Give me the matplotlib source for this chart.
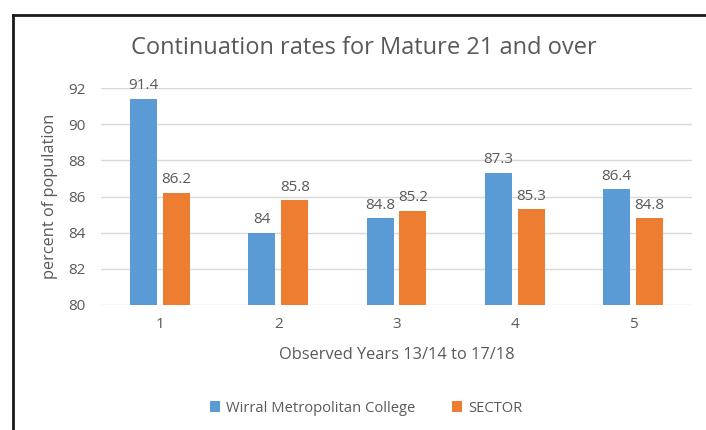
import matplotlib
matplotlib.use("Agg")
import matplotlib.pyplot as plt
from matplotlib.lines import Line2D
import numpy as np

categories = ["1", "2", "3", "4", "5"]
wmc = [91.4, 84, 84.8, 87.3, 86.4]
sector = [86.2, 85.8, 85.2, 85.3, 84.8]
wmc_labels = ["91.4", "84", "84.8", "87.3", "86.4"]
sector_labels = ["86.2", "85.8", "85.2", "85.3", "84.8"]
yticks = [80, 82, 84, 86, 88, 90, 92]

plt.rcParams['font.family'] = ['Open Sans', 'DejaVu Sans']
txt = '#595959'
blue = '#5B9BD5'
orange = '#ED7D31'

fig = plt.figure(figsize=(7.06, 4.30), dpi=100)
ax = fig.add_axes([101/706, 1-305/430, (692-101)/706, (305-88)/430])

x = np.arange(len(categories))
w = 0.228
off = 0.139
b1 = ax.bar(x - off, wmc, w, color=blue, label='Wirral Metropolitan College', zorder=3)
b2 = ax.bar(x + off, sector, w, color=orange, label='SECTOR', zorder=3)
for rect, lab in zip(b1, wmc_labels):
    ax.annotate(lab, (rect.get_x()+rect.get_width()/2, rect.get_height()), xytext=(0, 4),
                textcoords='offset points', ha='center', va='bottom', fontsize=11, color=txt)
for rect, lab in zip(b2, sector_labels):
    ax.annotate(lab, (rect.get_x()+rect.get_width()/2, rect.get_height()), xytext=(0, 4),
                textcoords='offset points', ha='center', va='bottom', fontsize=11, color=txt)

ax.set_xlim(-0.5, len(categories)-0.5)
ax.set_ylim(80, 92)
ax.set_yticks(yticks)
ax.set_xticks(x)
ax.set_xticklabels(categories)
ax.tick_params(length=0, labelsize=11, colors=txt, pad=9)
ax.tick_params(axis='y', pad=11)
ax.grid(axis='y', color='#D9D9D9', linewidth=1, zorder=0)
for s in ax.spines.values():
    s.set_visible(False)
ax.set_xlabel('Observed Years 13/14 to 17/18', fontsize=11.8, color=txt)
ax.set_ylabel('percent of population', fontsize=11.8, color=txt)
ax.xaxis.set_label_coords(0.5, (305-347)/217)
ax.yaxis.set_label_coords((58-101)/591, 0.5)

fig.text(364/706, 1-48/430, 'Continuation rates for Mature 21 and over', ha='center', va='center',
         fontsize=17, color=txt)

leg = fig.legend(handles=[b1, b2], loc='center', bbox_to_anchor=(366/706, 1-408/430), ncol=2,
                 frameon=False, fontsize=10.6, handlelength=0.7, handleheight=0.7,
                 columnspacing=2.5, handletextpad=0.4, labelcolor=txt)

# border
fig.add_artist(Line2D([12.5/706, 12.5/706], [0, 1-15/430], color='#1a1a1a', lw=2, transform=fig.transFigure))
fig.add_artist(Line2D([12.5/706, 1], [1-15/430, 1-15/430], color='#1a1a1a', lw=2, transform=fig.transFigure))

fig.savefig('out.png', dpi=100)
